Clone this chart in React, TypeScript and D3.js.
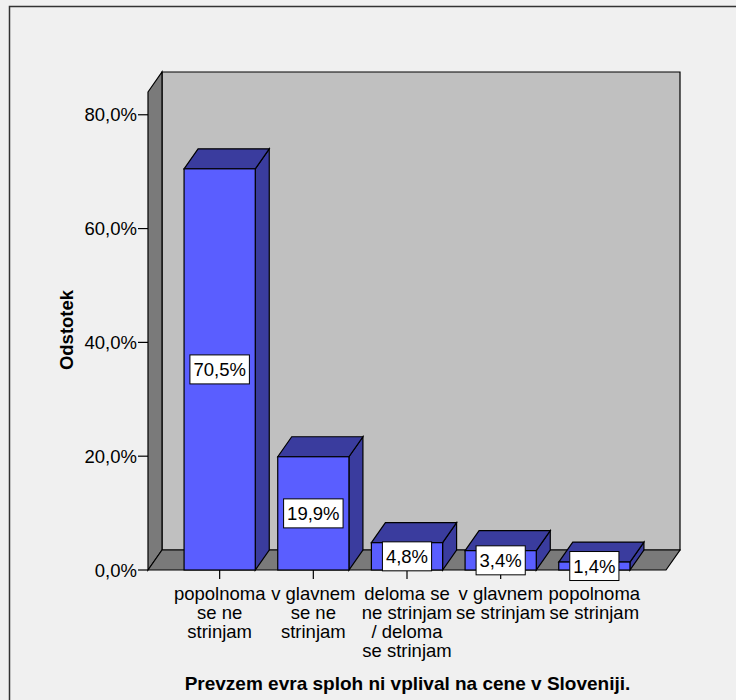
import React, { useEffect, useRef } from "react";
import * as d3 from "d3";

// Response categories (wrapped as printed under the axis)
const categoryLines: string[][] = [
  ["popolnoma", "se ne", "strinjam"],
  ["v glavnem", "se ne", "strinjam"],
  ["deloma se", "ne strinjam", "/ deloma", "se strinjam"],
  ["v glavnem", "se strinjam"],
  ["popolnoma", "se strinjam"],
];
const categories: string[] = categoryLines.map((l) => l.join(" "));

// Share of respondents per category (%)
const percentages: number[] = [70.5, 19.9, 4.8, 3.4, 1.4];

// Value axis ticks (%) and the height of the back wall
const yTicks: number[] = [0, 20, 40, 60, 80];
const yWallTop = 84;

const xTitle = "Prevzem evra sploh ni vplival na cene v Sloveniji.";
const yTitle = "Odstotek";

const W = 736;
const H = 700;
const FONT = "Arial, 'Liberation Sans', sans-serif";

const fmtPct = (v: number) => d3.format(".1f")(v).replace(".", ",") + "%";

export default function App() {
  const ref = useRef<SVGSVGElement | null>(null);

  useEffect(() => {
    const svg = d3.select(ref.current);
    svg.selectAll("*").remove();

    // front plane of the plot and the depth offset of the 3D box
    const left = 148;
    const right = 666;
    const bottom = 570;
    const dx = 14;
    const dy = -20;

    const x = d3
      .scaleBand<string>()
      .domain(categories)
      .range([left, right])
      .paddingInner(0.24)
      .paddingOuter(0.385);
    const y = d3.scaleLinear().domain([0, yWallTop]).range([bottom, 92]);
    const top = y(yWallTop);

    const wallGray = "#7a7a7a";
    const backGray = "#c0c0c0";
    const barFront = "#5a5eff";
    const barSide = "#3a3c9e";

    svg.append("rect").attr("width", W).attr("height", H).attr("fill", "#f0f0f0");
    svg
      .append("rect")
      .attr("x", 9.5)
      .attr("y", 6.5)
      .attr("width", W + 20)
      .attr("height", H + 20)
      .attr("fill", "none")
      .attr("stroke", "#333")
      .attr("stroke-width", 1.5);

    const poly = (pts: [number, number][]) => "M" + pts.map((p) => p.join(",")).join("L") + "Z";

    // back wall
    svg
      .append("path")
      .attr("d", poly([
        [left + dx, top + dy],
        [right + dx, top + dy],
        [right + dx, bottom + dy],
        [left + dx, bottom + dy],
      ]))
      .attr("fill", backGray)
      .attr("stroke", "#000")
      .attr("stroke-width", 1.2);

    // left side wall
    svg
      .append("path")
      .attr("d", poly([
        [left, top],
        [left + dx, top + dy],
        [left + dx, bottom + dy],
        [left, bottom],
      ]))
      .attr("fill", wallGray)
      .attr("stroke", "#000")
      .attr("stroke-width", 1.2);

    // floor
    svg
      .append("path")
      .attr("d", poly([
        [left, bottom],
        [left + dx, bottom + dy],
        [right + dx, bottom + dy],
        [right, bottom],
      ]))
      .attr("fill", wallGray)
      .attr("stroke", "#000")
      .attr("stroke-width", 1.2);

    // bars
    const bw = x.bandwidth();
    const bars = svg
      .append("g")
      .selectAll("g")
      .data(percentages)
      .join("g");

    bars.each(function (v, i) {
      const g = d3.select(this);
      const x0 = x(categories[i]) as number;
      const x1 = x0 + bw;
      const yt = y(v);
      g.append("path")
        .attr("d", poly([[x1, yt], [x1 + dx, yt + dy], [x1 + dx, bottom + dy], [x1, bottom]]))
        .attr("fill", barSide)
        .attr("stroke", "#000")
        .attr("stroke-width", 1.2);
      g.append("path")
        .attr("d", poly([[x0, yt], [x0 + dx, yt + dy], [x1 + dx, yt + dy], [x1, yt]]))
        .attr("fill", barSide)
        .attr("stroke", "#000")
        .attr("stroke-width", 1.2);
      g.append("rect")
        .attr("x", x0)
        .attr("y", yt)
        .attr("width", bw)
        .attr("height", bottom - yt)
        .attr("fill", barFront)
        .attr("stroke", "#000")
        .attr("stroke-width", 1.2);
    });

    // y axis ticks and labels
    const yAxis = svg.append("g");
    yTicks.forEach((tv) => {
      yAxis
        .append("line")
        .attr("x1", left - 10)
        .attr("x2", left)
        .attr("y1", y(tv))
        .attr("y2", y(tv))
        .attr("stroke", "#000")
        .attr("stroke-width", 1.2);
      yAxis
        .append("text")
        .attr("x", left - 11)
        .attr("y", y(tv))
        .attr("dy", "0.36em")
        .attr("text-anchor", "end")
        .attr("font-family", FONT)
        .attr("font-size", 18.5)
        .attr("fill", "#000")
        .text(fmtPct(tv));
    });

    // x axis ticks and wrapped category labels
    const xAxis = svg.append("g");
    categories.forEach((c, i) => {
      const cx = (x(c) as number) + bw / 2;
      xAxis
        .append("line")
        .attr("x1", cx)
        .attr("x2", cx)
        .attr("y1", bottom)
        .attr("y2", bottom + 9)
        .attr("stroke", "#000")
        .attr("stroke-width", 1.2);
      const t = xAxis
        .append("text")
        .attr("text-anchor", "middle")
        .attr("font-family", FONT)
        .attr("font-size", 18.5)
        .attr("fill", "#000");
      categoryLines[i].forEach((line, k) => {
        t.append("tspan").attr("x", cx).attr("y", 600 + k * 19).text(line);
      });
    });

    // value labels in white boxes at the middle of each front face (on top of the ticks)
    const labels = svg.append("g");
    percentages.forEach((v, i) => {
      const cx = (x(categories[i]) as number) + bw / 2;
      const cy = (y(v) + bottom) / 2;
      const rect = labels.append("rect");
      const t = labels
        .append("text")
        .attr("x", cx)
        .attr("y", cy)
        .attr("dy", "0.36em")
        .attr("text-anchor", "middle")
        .attr("font-family", FONT)
        .attr("font-size", 18.5)
        .attr("fill", "#000")
        .text(fmtPct(v));
      const tw = (t.node() as SVGTextElement).getComputedTextLength();
      const bwBox = tw + 7;
      const bh = 29;
      rect
        .attr("x", cx - bwBox / 2)
        .attr("y", cy - bh / 2)
        .attr("width", bwBox)
        .attr("height", bh)
        .attr("fill", "#fff")
        .attr("stroke", "#000")
        .attr("stroke-width", 1);
    });

    // axis titles
    svg
      .append("text")
      .attr("x", 407.5)
      .attr("y", 690)
      .attr("text-anchor", "middle")
      .attr("font-family", FONT)
      .attr("font-size", 19)
      .attr("font-weight", "bold")
      .attr("fill", "#000")
      .text(xTitle);
    svg
      .append("text")
      .attr("transform", "translate(73,330) rotate(-90)")
      .attr("text-anchor", "middle")
      .attr("font-family", FONT)
      .attr("font-size", 18.5)
      .attr("font-weight", "bold")
      .attr("fill", "#000")
      .text(yTitle);
  }, []);

  return (
    <svg
      ref={ref}
      width={W}
      height={H}
      style={{ position: "absolute", left: 0, top: 0, display: "block" }}
    />
  );
}
